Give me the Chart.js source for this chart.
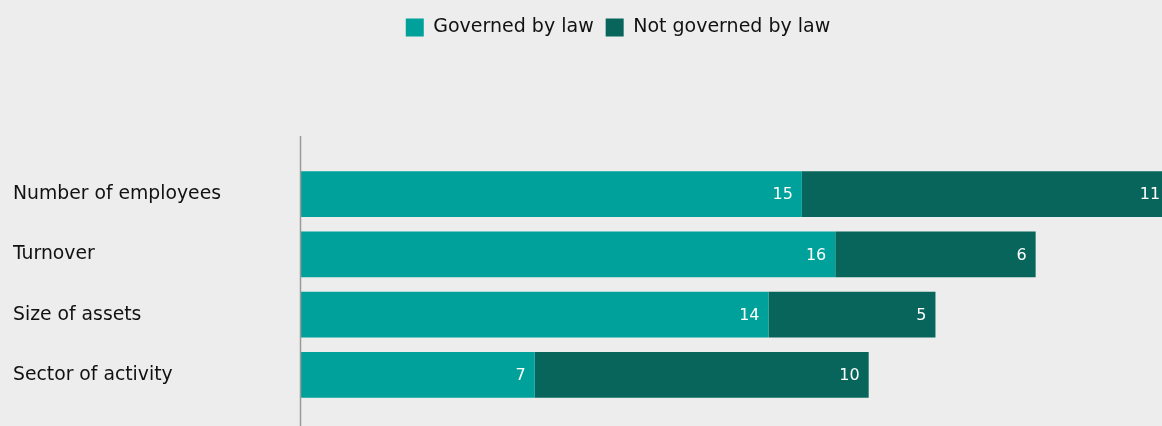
<!DOCTYPE html>
<html>
<head>
<meta charset="utf-8">
<script src="https://cdn.jsdelivr.net/npm/chart.js@4/dist/chart.umd.min.js"></script>
<style>
html,body{margin:0;padding:0;background:#ededed;overflow:hidden;}
#wrap{width:1162px;height:426px;overflow:hidden;}
canvas{display:block;}
</style>
</head>
<body>
<div id="wrap"><canvas id="c" width="1236" height="426"></canvas></div>
<script>
const categories = ["Number of employees", "Turnover", "Size of assets", "Sector of activity"];
const governedByLaw = [15, 16, 14, 7];
const notGovernedByLaw = [11, 6, 5, 10];
const seriesNames = ["Governed by law", "Not governed by law"];
const xMax = 28;

Chart.defaults.font.family = "'DejaVu Sans', sans-serif";
Chart.defaults.color = "#111111";

const barLabels = {
  id: 'barLabels',
  afterDatasetsDraw(chart) {
    const ctx = chart.ctx;
    ctx.save();
    ctx.fillStyle = '#ffffff';
    ctx.font = "16px 'DejaVu Sans', sans-serif";
    ctx.textAlign = 'right';
    ctx.textBaseline = 'middle';
    chart.data.datasets.forEach((ds, di) => {
      const meta = chart.getDatasetMeta(di);
      meta.data.forEach((el, i) => {
        ctx.fillText(String(ds.data[i]), el.x - 9, el.y + 1);
      });
    });
    ctx.restore();
  }
};

const axisLine = {
  id: 'axisLine',
  afterDraw(chart) {
    const ctx = chart.ctx;
    const a = chart.chartArea;
    ctx.save();
    ctx.strokeStyle = '#9a9a9a';
    ctx.lineWidth = 1.5;
    ctx.beginPath();
    ctx.moveTo(a.left - 0.5, a.top - 28);
    ctx.lineTo(a.left - 0.5, chart.height);
    ctx.stroke();
    ctx.restore();
  }
};

new Chart(document.getElementById('c'), {
  type: 'bar',
  data: {
    labels: categories,
    datasets: [
      { label: seriesNames[0], data: governedByLaw, backgroundColor: '#00a19a', barPercentage: 0.762, categoryPercentage: 1 },
      { label: seriesNames[1], data: notGovernedByLaw, backgroundColor: '#08655b', barPercentage: 0.762, categoryPercentage: 1 }
    ]
  },
  options: {
    indexAxis: 'y',
    responsive: false,
    animation: false,
    layout: { padding: { left: 0, right: 0, top: 6, bottom: 21 } },
    plugins: {
      legend: {
        position: 'top',
        labels: { boxWidth: 18, boxHeight: 18, padding: 12, font: { size: 19 }, color: '#111111' }
      },
      tooltip: { enabled: false }
    },
    scales: {
      x: {
        stacked: true,
        position: 'top',
        min: 0,
        max: xMax,
        grid: { display: false },
        border: { display: false },
        ticks: { display: false },
        afterFit(scale) { scale.height = 117; }
      },
      y: {
        stacked: true,
        weight: 0,
        grid: { display: false },
        border: { display: false },
        ticks: { crossAlign: 'far', font: { size: 18.8 }, color: '#111111' },
        afterFit(scale) { scale.width = 288; }
      },
      gutter: {
        type: 'linear',
        position: 'left',
        weight: 10,
        grid: { display: false },
        border: { display: false },
        ticks: { display: false },
        afterFit(scale) { scale.width = 13; }
      }
    }
  },
  plugins: [barLabels, axisLine]
});
</script>
</body>
</html>
